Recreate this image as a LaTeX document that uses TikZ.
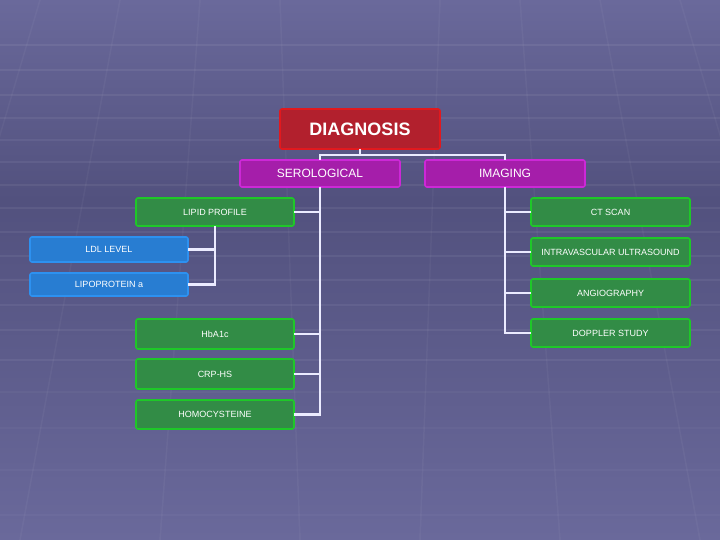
\documentclass[tikz,border=0pt]{standalone}
\usepackage{fontspec}
\setmainfont{Liberation Sans}
\begin{document}
\begin{tikzpicture}[x=1pt,y=-1pt,
  box/.style={draw,line width=1.6pt,rounded corners=2pt,text=white,anchor=north west,inner sep=0pt,outer sep=0pt,align=center},
  redbox/.style={box,fill={rgb,255:red,178;green,32;blue,45},draw={rgb,255:red,225;green,25;blue,30},font=\bfseries\fontsize{18}{20}\selectfont},
  magbox/.style={box,fill={rgb,255:red,165;green,30;blue,170},draw={rgb,255:red,205;green,40;blue,215},font=\fontsize{12}{14}\selectfont},
  grnbox/.style={box,fill={rgb,255:red,50;green,140;blue,70},draw={rgb,255:red,30;green,200;blue,40},font=\fontsize{9}{11}\selectfont},
  blubox/.style={box,fill={rgb,255:red,40;green,125;blue,210},draw={rgb,255:red,45;green,145;blue,240},font=\fontsize{9}{11}\selectfont},
  conn/.style={draw=white!92!blue,line width=2.8pt}]
\definecolor{bgA}{RGB}{106,105,155}
\definecolor{bgB}{RGB}{82,81,126}
\useasboundingbox (0,0) rectangle (720,540);
\shade[top color=bgA,bottom color=bgB] (0,0) rectangle (720,200);
\shade[top color=bgB,bottom color=bgA] (0,200) rectangle (720,540);
% faint grid
\foreach \y in {45,70,95,118,140,162,185,208,232,256,280,305,330,360}
  \draw[white,opacity=0.06,line width=1.5pt] (0,\y) -- (720,\y);
\foreach \y in {392,428,470,515}
  \draw[white,opacity=0.03,line width=1.5pt] (0,\y) -- (720,\y);
\foreach \x/\xb in {40/-120,120/20,200/160,280/300}
  \draw[white,opacity=0.04,line width=1.5pt] (\x,0) -- (\xb,540);
\foreach \x/\xb in {40/-120,120/20,200/160,280/300}
  \draw[white,opacity=0.04,line width=1.5pt] (720-\x,0) -- (720-\xb,540);
% nodes
\node[redbox,minimum width=160pt,minimum height=40pt] (diag) at (280,109) {DIAGNOSIS};
\node[magbox,minimum width=160pt,minimum height=27pt] (sero) at (240,160) {SEROLOGICAL};
\node[magbox,minimum width=160pt,minimum height=27pt] (imag) at (425,160) {IMAGING};
\node[grnbox,minimum width=158pt,minimum height=28pt] (lipid) at (136,198) {LIPID PROFILE};
\node[blubox,minimum width=158pt,minimum height=25pt] (ldl) at (30,237) {LDL LEVEL};
\node[blubox,minimum width=158pt,minimum height=23pt] (lpa) at (30,273) {LIPOPROTEIN a};
\node[grnbox,minimum width=158pt,minimum height=30pt] (hba) at (136,319) {HbA1c};
\node[grnbox,minimum width=158pt,minimum height=30pt] (crp) at (136,359) {CRP-HS};
\node[grnbox,minimum width=158pt,minimum height=29pt] (homo) at (136,400) {HOMOCYSTEINE};
\node[grnbox,minimum width=159pt,minimum height=28pt] (ct) at (531,198) {CT SCAN};
\node[grnbox,minimum width=159pt,minimum height=28pt] (ivus) at (531,238) {INTRAVASCULAR ULTRASOUND};
\node[grnbox,minimum width=159pt,minimum height=28pt] (angio) at (531,279) {ANGIOGRAPHY};
\node[grnbox,minimum width=159pt,minimum height=28pt] (dopp) at (531,319) {DOPPLER STUDY};
% connectors
\coordinate (top) at (0,155);
\draw[conn] (diag.south) -- (diag.south |- top);
\draw[conn] (sero.north) -- (sero.north |- top) -- (imag.north |- top) -- (imag.north);
\draw[conn] (sero.south) -- (sero.south |- homo.east) -- (homo.east);
\foreach \n in {lipid,hba,crp} \draw[conn] (\n.east) -- (sero.south |- \n.east);
\draw[conn] (imag.south) -- (imag.south |- dopp.west) -- (dopp.west);
\foreach \n in {ct,ivus,angio} \draw[conn] (\n.west) -- (imag.south |- \n.west);
\coordinate (lx) at (214,0);
\draw[conn] (lipid.south) -- (lipid.south |- lpa.east) -- (lpa.east);
\draw[conn] (ldl.east) -- (lipid.south |- ldl.east);
\end{tikzpicture}
\end{document}
